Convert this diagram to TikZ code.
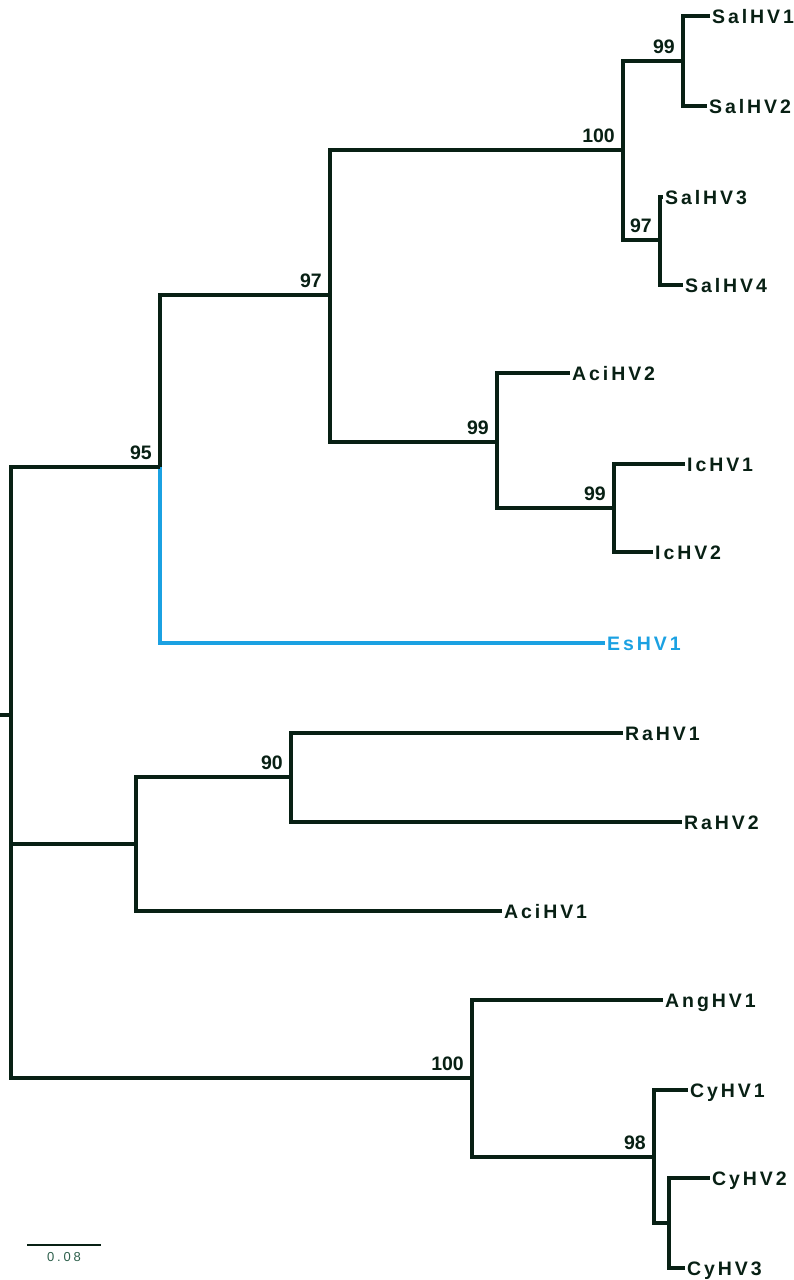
\documentclass[tikz,border=0pt]{standalone}
\usepackage{fontspec}
\setmainfont{Liberation Sans}
\newfontfamily\taxonfont[LetterSpace=15]{Liberation Sans}
\newfontfamily\scalefont[LetterSpace=22]{Liberation Sans}
\usepackage{xcolor}
\usetikzlibrary{positioning}
\definecolor{treeink}{RGB}{8,32,20}
\definecolor{esblue}{RGB}{27,161,226}
\definecolor{scaleink}{RGB}{45,95,75}

\begin{document}
\begin{tikzpicture}[x=1pt, y=-1pt,
  branch/.style={line width=3.6pt, draw=treeink},
  taxon/.style={anchor=west, inner sep=2pt, text height=14pt, text depth=0pt, font=\taxonfont\bfseries\fontsize{19.5}{22}\selectfont, text=treeink},
  boot/.style={anchor=south east, inner sep=0pt, xshift=-8pt, yshift=7pt, font=\bfseries\fontsize{19.5}{22}\selectfont, text=treeink}]
\useasboundingbox (0,0) rectangle (793,1280);
% internal nodes
\coordinate (stub) at (0,715);
\coordinate (root) at (11,715);
\coordinate (n95) at (160,467);
\coordinate (n97) at (330,295);
\coordinate (n100a) at (623,150);
\coordinate (n99a) at (683,61);
\coordinate (n97b) at (660,240);
\coordinate (n99b) at (497,442);
\coordinate (n99c) at (614,508);
\coordinate (nlow) at (136,844);
\coordinate (n90) at (291,777);
\coordinate (n100b) at (472,1078);
\coordinate (n98) at (654,1157);
\coordinate (ncy) at (669,1223);
% leaves
\node[taxon] (sal1) at (710,16) {SalHV1};
\node[taxon] (sal2) at (707,106) {SalHV2};
\node[taxon] (sal3) at (663,197) {SalHV3};
\node[taxon] (sal4) at (683,285) {SalHV4};
\node[taxon] (aci2) at (570,373) {AciHV2};
\node[taxon] (ic1) at (685,464) {IcHV1};
\node[taxon] (ic2) at (653,552) {IcHV2};
\node[taxon, text=esblue] (es1) at (605,643) {EsHV1};
\node[taxon] (ra1) at (623,733) {RaHV1};
\node[taxon] (ra2) at (682,822) {RaHV2};
\node[taxon] (aci1) at (502,911) {AciHV1};
\node[taxon] (ang1) at (663,1000) {AngHV1};
\node[taxon] (cy1) at (688,1090) {CyHV1};
\node[taxon] (cy2) at (710,1178) {CyHV2};
\node[taxon] (cy3) at (685,1268) {CyHV3};
% support values
\node[boot] (b95) at (n95) {95};
\node[boot] (b97) at (n97) {97};
\node[boot] (b100a) at (n100a) {100};
\node[boot] (b99a) at (n99a) {99};
\node[boot] (b97b) at (n97b) {97};
\node[boot] (b99b) at (n99b) {99};
\node[boot] (b99c) at (n99c) {99};
\node[boot] (b90) at (n90) {90};
\node[boot] (b100b) at (n100b) {100};
\node[boot] (b98) at (n98) {98};
% branches
\draw[branch, draw=esblue] (n95) |- (es1);
\draw[branch] (stub) -- (root);
\draw[branch] (root) |- (n95);
\draw[branch] (root) |- (nlow);
\draw[branch] (root) |- (n100b);
\draw[branch] (n95) |- (n97);
\draw[branch] (n97) |- (n100a);
\draw[branch] (n97) |- (n99b);
\draw[branch] (n100a) |- (n99a);
\draw[branch] (n100a) |- (n97b);
\draw[branch] (n99a) |- (sal1);
\draw[branch] (n99a) |- (sal2);
\draw[branch] (n97b) |- (sal3);
\draw[branch] (n97b) |- (sal4);
\draw[branch] (n99b) |- (aci2);
\draw[branch] (n99b) |- (n99c);
\draw[branch] (n99c) |- (ic1);
\draw[branch] (n99c) |- (ic2);
\draw[branch] (nlow) |- (n90);
\draw[branch] (nlow) |- (aci1);
\draw[branch] (n90) |- (ra1);
\draw[branch] (n90) |- (ra2);
\draw[branch] (n100b) |- (ang1);
\draw[branch] (n100b) |- (n98);
\draw[branch] (n98) |- (cy1);
\draw[branch] (n98) |- (ncy);
\draw[branch] (ncy) |- (cy2);
\draw[branch] (ncy) |- (cy3);
% scale bar
\coordinate (sbL) at (27,1245);
\coordinate (sbR) at (101,1245);
\draw[line width=2pt, treeink] (sbL) -- (sbR);
\node[anchor=north, inner sep=0pt, font=\scalefont\fontsize{13}{15}\selectfont, text=scaleink] (sbtext) at (64,1252) {0.08};
\end{tikzpicture}
\end{document}
